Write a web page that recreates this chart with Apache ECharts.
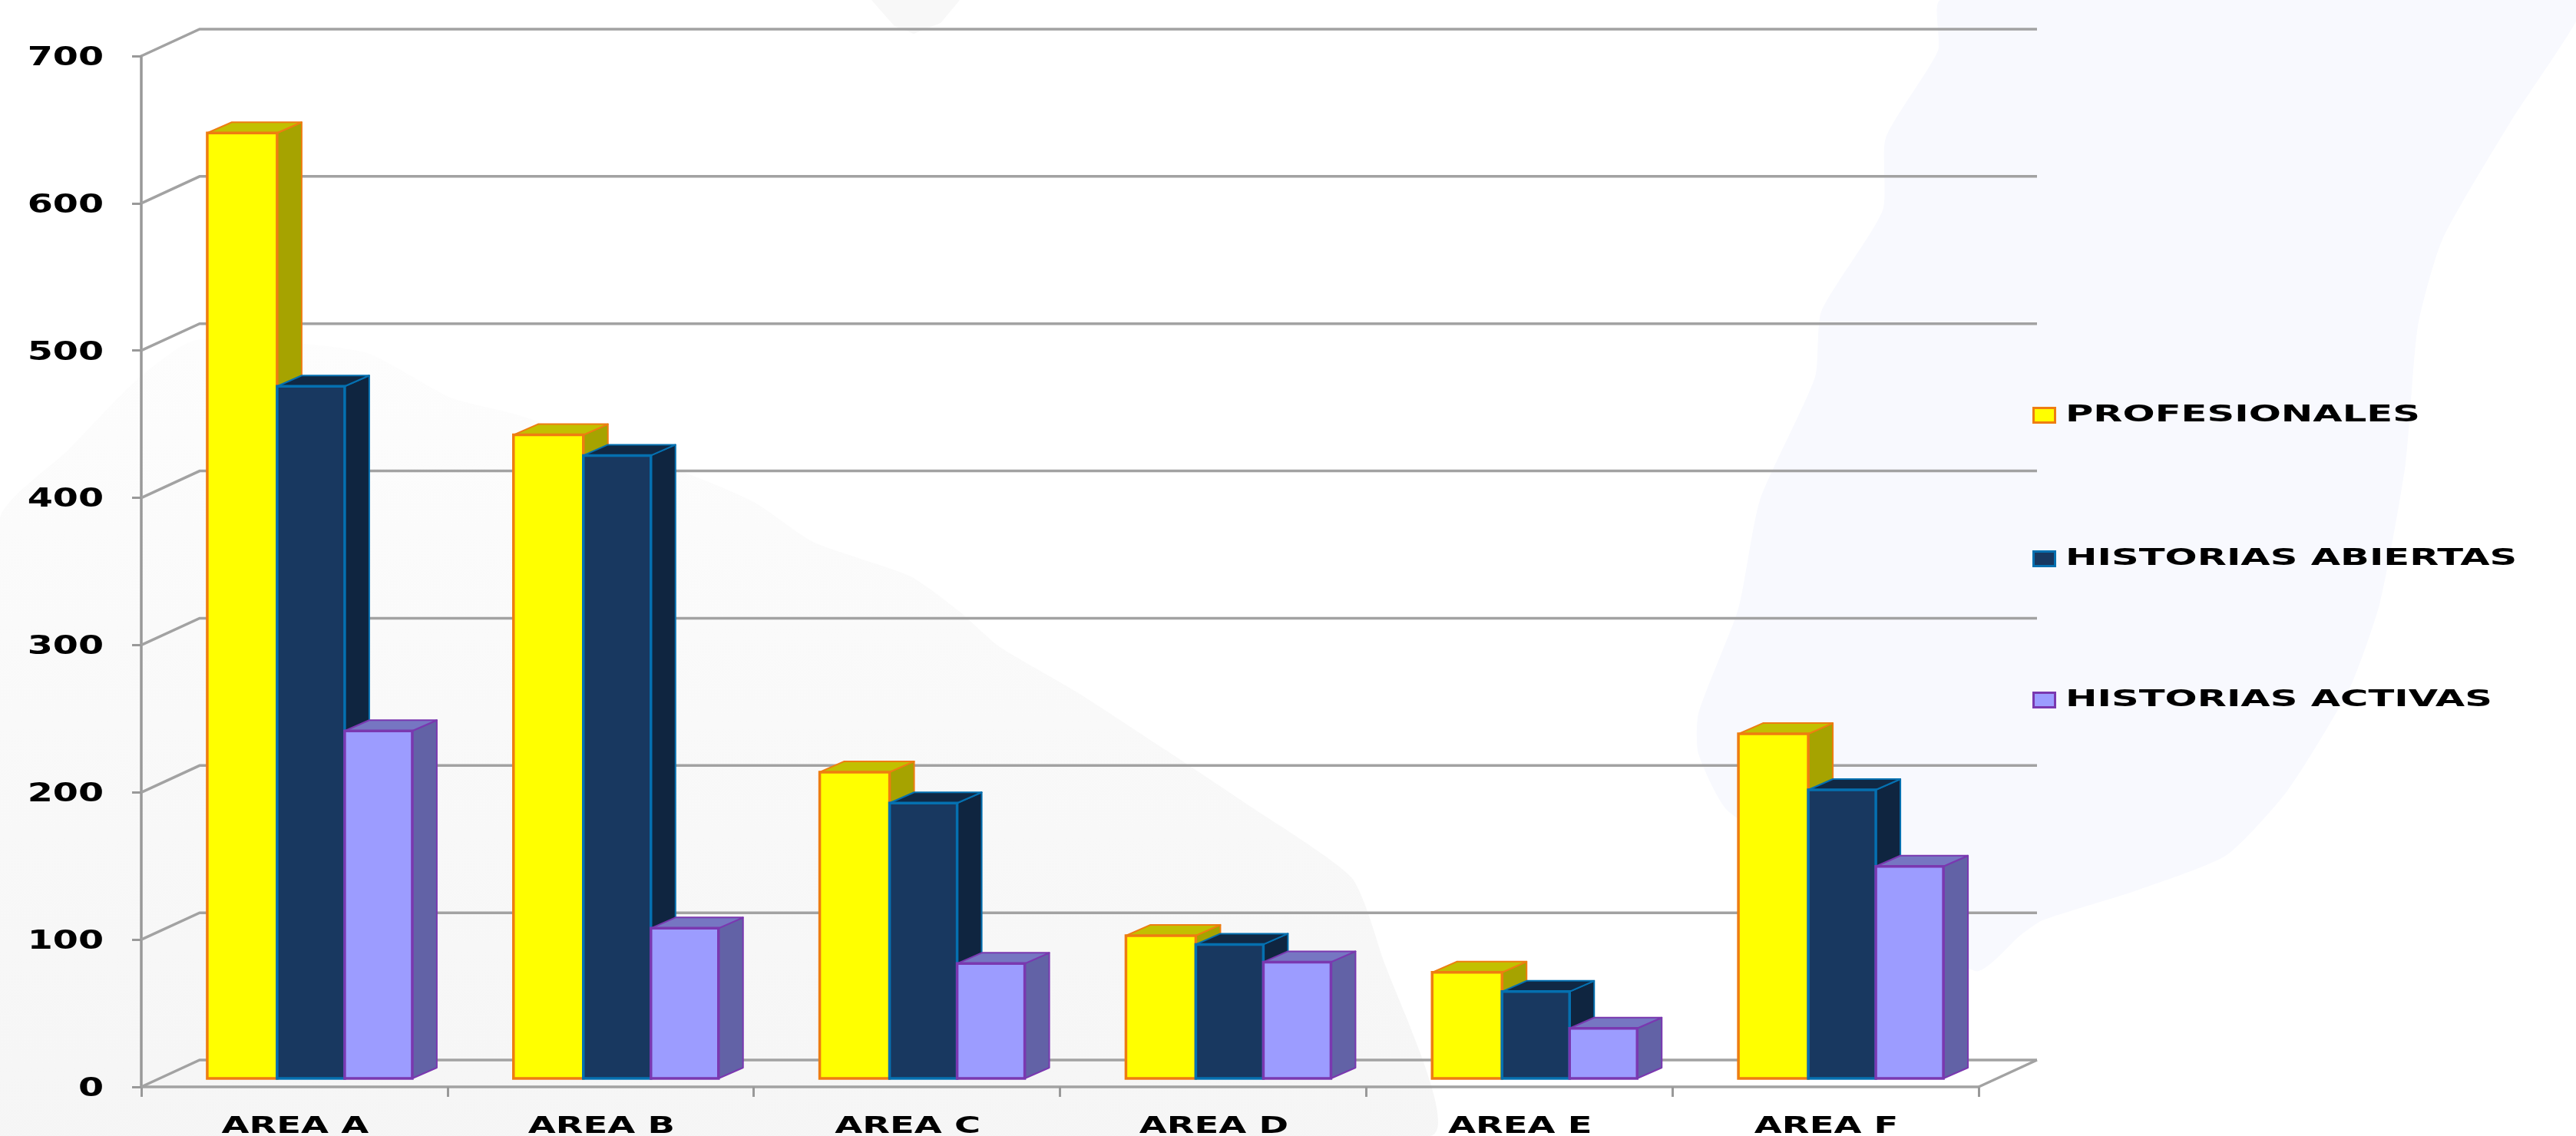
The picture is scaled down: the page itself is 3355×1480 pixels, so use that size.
<!DOCTYPE html>
<html>
<head>
<meta charset="utf-8">
<style>
html,body{margin:0;padding:0;background:#fff}
#main{width:3355px;height:1480px;filter:blur(0.6px)}
</style>
<script src="https://cdn.jsdelivr.net/npm/echarts@6/dist/echarts.min.js"></script>
</head>
<body>
<div id="main"></div>
<script>
var categories = ['AREA A','AREA B','AREA C','AREA D','AREA E','AREA F'];
var seriesNames = ['PROFESIONALES','HISTORIAS ABIERTAS','HISTORIAS ACTIVAS'];
var profesionales = [642,437,208,97,72,234];
var abiertas = [470,423,187,91,59,196];
var activas = [236,102,78,79,34,144];
var yTicks = [0,100,200,300,400,500,600,700];

// colores: frente, lateral, tapa, borde
var looks = [
  {front:'#ffff00',side:'#a6a300',top:'#c2c000',line:'#ee7d11'},
  {front:'#183860',side:'#0f2540',top:'#102844',line:'#0570b0'},
  {front:'#9c9cff',side:'#6262a6',top:'#7676c2',line:'#7a38b0'}
];

var floorDx = 76, floorDy = 35; // fondo del "3D"
var barDepthX = 32, barDepthY = 14;
var barW = 88;

var chart = echarts.init(document.getElementById('main'));

function stretchedText(x, y, text, size, sx, align) {
  return {
    type: 'text', x: x, y: y, scaleX: sx, z2: 5,
    style: {
      text: text, fill: '#000', fontFamily: '"DejaVu Sans"', fontWeight: 'bold',
      fontSize: size, align: align, verticalAlign: 'middle'
    }
  };
}

function barSeries(idx, values) {
  var look = looks[idx];
  return {
    type: 'custom',
    name: seriesNames[idx],
    coordinateSystem: 'cartesian2d',
    z: 3 + idx,
    clip: false,
    data: values.map(function (v, i) { return [i, v]; }),
    renderItem: function (params, api) {
      var c = api.coord([api.value(0), api.value(1)]);
      var b = api.coord([api.value(0), 0]);
      var xs = c[0] + 21.5 + (idx - 1.5) * barW;
      var xe = xs + barW;
      // la primera barra es un poco mas ancha en el original
      if (idx === 0) xs -= 3;
      var yt = c[1] - 11, yb = b[1] - 11;
      var dx = barDepthX, dy = barDepthY;
      return {
        type: 'group',
        children: [
          {type:'polygon', shape:{points:[[xe,yt],[xe+dx,yt-dy],[xe+dx,yb-dy],[xe,yb]]},
            style:{fill:look.side, stroke:look.line, lineWidth:2, lineJoin:'round'}},
          {type:'polygon', shape:{points:[[xs,yt],[xs+dx,yt-dy],[xe+dx,yt-dy],[xe,yt]]},
            style:{fill:look.top, stroke:look.line, lineWidth:2, lineJoin:'round'}},
          {type:'rect', shape:{x:xs,y:yt,width:xe-xs,height:yb-yt},
            style:{fill:look.front, stroke:look.line, lineWidth:3.5}}
        ]
      };
    }
  };
}

// lineas de la pared y piso
var frameSeries = {
  type: 'custom',
  coordinateSystem: 'cartesian2d',
  z: 1,
  clip: false,
  silent: true,
  data: yTicks.map(function (v) { return [0, v]; }),
  renderItem: function (params, api) {
    var v = api.value(1);
    var p = api.coord([0, v]);
    var left = params.coordSys.x, right = left + params.coordSys.width;
    var kids = [
      {type:'polyline', shape:{points:[[left,p[1]],[left+floorDx,p[1]-floorDy],[right+floorDx,p[1]-floorDy]]},
        style:{stroke:'#a2a2a2',lineWidth:3.5,fill:null}},
      stretchedText(left - 49, p[1] + 3, String(v), 34, 1.4, 'right')
    ];
    if (v === 0) {
      kids.push({type:'line', shape:{x1:right,y1:p[1],x2:right+floorDx,y2:p[1]-floorDy},
        style:{stroke:'#a2a2a2',lineWidth:3.5}});
    }
    return {type:'group', children:kids};
  }
};

var labelSeries = {
  type: 'custom',
  coordinateSystem: 'cartesian2d',
  z: 6,
  clip: false,
  silent: true,
  data: categories.map(function (c, i) { return [i, 0]; }),
  renderItem: function (params, api) {
    var p = api.coord([api.value(0), 0]);
    return stretchedText(p[0] + 1, p[1] + 52, categories[api.value(0)], 31, 1.5, 'center');
  }
};

// leyenda dibujada a mano para poder estirar el texto
var legendY = [541, 728, 912];
var legendGraphic = [];
seriesNames.forEach(function (n, i) {
  legendGraphic.push({type:'rect', left:2647, top:legendY[i]-11, z:20,
    shape:{width:28,height:19},
    style:{fill:looks[i].front, stroke:looks[i].line, lineWidth:3}});
  legendGraphic.push({type:'text', x:2690, y:legendY[i], scaleX:1.6, z:20,
    style:{text:n, fill:'#000', fontFamily:'"DejaVu Sans"', fontWeight:'bold', fontSize:31,
      align:'left', verticalAlign:'middle'}});
});

// manchas del fondo
var blobs = [
  {type:'polygon', z:-10, shape:{smooth:0.2, points:[[2528,0],[3355,0],[3355,28],[3269,160],[3181,312],[3149,425],[3133,604],[3100,784],[3060,897],[2980,1029],[2900,1114],[2780,1161],[2660,1199],[2632,1218],[2572,1265],[2252,1058],[2212,982],[2212,930],[2264,793],[2292,652],[2364,491],[2372,406],[2452,274],[2456,180],[2524,66]]},
    style:{fill:'#f8f9fe'}},
  {type:'polygon', z:-11, shape:{smooth:0.2, points:[[0,676],[89,586],[178,495],[255,443],[472,458],[587,518],[676,541],[893,616],[982,654],[1059,706],[1186,751],[1250,797],[1301,842],[1403,902],[1518,977],[1620,1045],[1760,1143],[1798,1240],[1862,1480],[0,1480]]},
    style:{fill:{type:'linear',x:0,y:0,x2:0,y2:1,colorStops:[
      {offset:0,color:'#fdfdfd'},{offset:0.45,color:'#f9f9f9'},{offset:1,color:'#f5f5f5'}]}}},
  {type:'polygon', z:-11, shape:{points:[[1135,0],[1250,0],[1225,30],[1190,44],[1165,34]]},
    style:{fill:'#f8f8f8'}}
];

chart.setOption({
  animation: false,
  backgroundColor: '#fff',
  graphic: blobs.concat(legendGraphic),
  grid: {left: 184, right: 778, top: 73, bottom: 64, containLabel: false},
  xAxis: {
    type: 'category',
    data: categories,
    boundaryGap: true,
    axisLine: {lineStyle: {color: '#a2a2a2', width: 3.5}},
    axisTick: {show: true, alignWithLabel: false, length: 13, lineStyle: {color: '#999', width: 3}},
    axisLabel: {show: false}
  },
  yAxis: {
    type: 'value',
    min: 0,
    max: 700,
    interval: 100,
    splitLine: {show: false},
    axisLine: {show: true, lineStyle: {color: '#999', width: 3.5}},
    axisTick: {show: true, length: 12, lineStyle: {color: '#999', width: 3}},
    axisLabel: {show: false}
  },
  series: [
    frameSeries,
    barSeries(0, profesionales),
    barSeries(1, abiertas),
    barSeries(2, activas),
    labelSeries
  ]
});
</script>
</body>
</html>
